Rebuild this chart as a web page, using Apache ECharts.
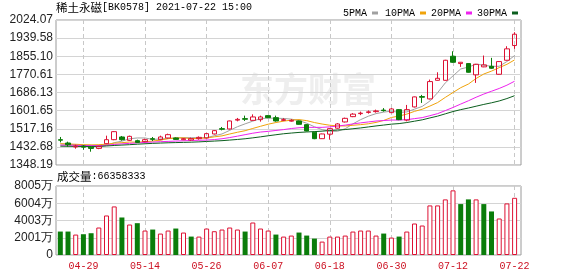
<!DOCTYPE html>
<html><head><meta charset="utf-8">
<script src="https://cdn.jsdelivr.net/npm/echarts@6/dist/echarts.min.js"></script>
<style>html,body{margin:0;padding:0;background:#fff}#c{width:578px;height:276px}</style>
</head><body><div id="c"></div>
<script>
const dates = ['04-26','04-27','04-28','04-29','04-30','05-06','05-07','05-10','05-11','05-12','05-13','05-14','05-17','05-18','05-19','05-20','05-21','05-24','05-25','05-26','05-27','05-28','05-31','06-01','06-02','06-03','06-04','06-07','06-08','06-09','06-10','06-11','06-15','06-16','06-17','06-18','06-21','06-22','06-23','06-24','06-25','06-28','06-29','06-30','07-01','07-02','07-05','07-06','07-07','07-08','07-09','07-12','07-13','07-14','07-15','07-16','07-19','07-20','07-21','07-22'];
// [open, close, lowest, highest]
const candles = [
[1466.2,1463.9,1453.6,1478.8],[1450.8,1442.9,1433.6,1456.9],[1432.2,1436.8,1424.2,1442.9],[1436.8,1431.3,1419.6,1440.6],[1431.3,1425.6,1410.2,1435.9],
[1425.6,1435.0,1421.9,1438.2],[1447.6,1466.2,1445.2,1484.9],[1466.2,1503.6,1463.9,1505.9],[1478.8,1466.2,1461.6,1483.5],[1463.0,1481.7,1460.2,1484.9],
[1461.6,1453.6,1450.8,1466.2],[1456.9,1466.2,1454.6,1470.9],[1470.9,1468.1,1460.2,1478.8],[1466.2,1478.8,1463.9,1484.9],[1474.2,1489.6,1471.8,1494.2],
[1474.2,1467.6,1466.2,1476.5],[1466.2,1470.9,1463.9,1474.2],[1464.8,1470.9,1461.6,1475.6],[1470.9,1477.0,1466.2,1481.6],[1474.2,1494.3,1471.8,1497.5],
[1492.9,1508.3,1490.5,1510.6],[1517.6,1514.8,1509.7,1525.5],[1516.2,1553.5,1513.9,1554.9],[1557.3,1561.0,1551.7,1567.5],[1564.3,1561.5,1553.5,1578.3],
[1556.3,1572.2,1554.9,1584.3],[1559.6,1572.2,1550.3,1578.3],[1578.3,1568.9,1566.6,1580.6],[1568.9,1553.5,1550.3,1578.3],[1556.3,1559.6,1552.6,1566.6],
[1552.6,1556.3,1550.3,1561.9],[1553.5,1537.7,1536.3,1554.9],[1536.3,1506.9,1505.0,1538.6],[1501.3,1470.9,1468.6,1503.6],[1470.9,1492.9,1469.5,1494.3],
[1491.9,1517.6,1466.2,1519.9],[1519.9,1539.5,1517.6,1543.3],[1548.9,1565.7,1546.5,1568.9],[1573.6,1585.3,1571.3,1589.9],[1587.6,1589.9,1580.6,1597.0],
[1593.2,1596.0,1587.6,1602.5],[1597.0,1600.2,1592.3,1606.3],[1604.0,1601.6,1597.0,1613.3],[1592.3,1609.5,1590.0,1613.3],[1606.3,1559.6,1557.3,1608.6],
[1557.3,1606.3,1551.7,1628.2],[1618.9,1665.6,1616.5,1667.0],[1667.0,1664.2,1637.5,1674.9],[1656.2,1737.0,1653.9,1746.3],[1743.0,1752.4,1741.6,1780.4],
[1743.0,1836.4,1741.6,1838.3],[1855.1,1827.1,1824.3,1878.4],[1821.0,1827.1,1805.6,1828.0],[1821.0,1780.4,1779.0,1823.3],[1768.3,1817.7,1730.9,1819.6],
[1805.6,1814.9,1804.2,1858.4],[1808.4,1799.1,1796.3,1847.6],[1771.1,1830.3,1769.7,1832.7],[1836.4,1889.6,1835.0,1901.8],[1905.0,1957.8,1889.6,1967.1]
];
const ma5 = [1446.2,1445.2,1442.9,1440.6,1440.1,1434.5,1439.2,1452.3,1459.3,1470.5,1474.2,1474.2,1467.2,1469.5,1471.4,1474.2,1475.1,1475.6,1475.1,1476.0,1484.5,1492.9,1509.7,1526.5,1540.0,1552.6,1564.3,1567.1,1565.7,1565.2,1562.0,1555.4,1542.8,1526.5,1513.0,1505.0,1505.5,1517.2,1540.0,1559.6,1575.5,1587.6,1594.6,1599.3,1593.2,1595.6,1608.7,1621.3,1646.5,1685.2,1731.0,1763.6,1795.8,1804.7,1817.8,1813.6,1808.0,1808.4,1830.4,1858.4];
const ma10 = [1447.6,1446.2,1444.8,1442.9,1442.0,1442.9,1445.2,1449.9,1452.3,1455.3,1454.4,1456.7,1459.7,1464.4,1470.9,1474.2,1474.7,1471.4,1472.4,1473.8,1479.4,1484.0,1492.7,1500.8,1508.1,1518.6,1528.6,1538.4,1546.1,1552.6,1557.3,1559.9,1555.0,1546.1,1539.1,1533.5,1530.5,1530.0,1533.3,1536.3,1540.3,1546.6,1555.9,1569.7,1576.4,1585.5,1598.2,1608.0,1622.9,1639.2,1663.3,1686.1,1708.5,1725.6,1751.5,1772.3,1785.8,1802.1,1817.5,1838.1];
const ma20 = [1440.6,1440.6,1440.1,1439.2,1438.3,1438.3,1440.6,1443.9,1446.7,1449.0,1451.3,1453.2,1455.1,1456.9,1458.3,1459.7,1461.1,1462.5,1463.5,1464.4,1466.7,1470.5,1476.1,1482.6,1489.6,1496.4,1501.8,1505.0,1509.2,1513.2,1518.3,1521.8,1523.7,1523.5,1523.7,1526.0,1529.5,1534.2,1539.6,1544.5,1548.9,1553.1,1555.4,1557.8,1557.8,1559.6,1564.3,1569.0,1578.1,1587.6,1601.7,1616.4,1632.2,1647.6,1664.0,1678.9,1692.0,1705.0,1720.2,1738.7];
const ma30 = [1435.9,1435.5,1435.0,1434.5,1434.5,1435.0,1436.9,1439.2,1441.1,1442.9,1445.2,1447.1,1449.0,1450.4,1451.8,1452.7,1453.7,1454.6,1456.0,1457.9,1459.7,1461.6,1464.4,1467.2,1470.5,1474.7,1479.4,1484.5,1489.2,1493.8,1497.1,1500.1,1502.2,1503.8,1506.0,1508.8,1511.1,1513.4,1517.2,1520.9,1525.6,1530.2,1534.4,1538.6,1541.2,1546.1,1552.4,1558.7,1567.6,1576.0,1586.7,1597.4,1606.3,1613.8,1622.2,1630.6,1638.1,1646.7,1657.9,1671.2];
const volumes = [27200000,27200000,23700000,24100000,25260000,31870000,45850000,56350000,43520000,35360000,36920000,28370000,29530000,24870000,28370000,30700000,26040000,21370000,21370000,30700000,27590000,29530000,31870000,29530000,27200000,37690000,30700000,28370000,23700000,21370000,22540000,26040000,22540000,19040000,15540000,21370000,21370000,22540000,27200000,28370000,28370000,22540000,24870000,20210000,21370000,27200000,36530000,34200000,57510000,57510000,64510000,75000000,59070000,64510000,64510000,59070000,50520000,42360000,59850000,66358333];
const volUp = [0,0,1,0,0,1,1,1,0,1,0,1,0,1,1,0,1,0,1,1,1,1,1,1,0,1,1,1,0,1,1,0,0,0,1,1,1,1,1,1,1,1,0,1,0,1,1,1,1,1,1,1,0,0,1,0,0,1,1,1];
const priceTicks = [1348.19,1432.675,1517.16,1601.645,1686.13,1770.615,1855.10,1939.585,2024.07];
const priceTickLabels = ['1348.19','1432.68','1517.16','1601.65','1686.13','1770.61','1855.10','1939.58','2024.07'];
const volTicks = [0,20012500,40025000,60037500,80050000];
const volTickLabels = ['0','2001万','4003万','6004万','8005万'];
const xTickIdx = [3,11,19,27,35,43,51,59];
const maNames = ['5PMA','10PMA','20PMA','30PMA'];

const RED = '#dd1133', GREEN = '#0a7d0a';
const maColors = ['#a0a0a0','#f0a30a','#ee22ee','#0b5e1e'];
const chart = echarts.init(document.getElementById('c'), null, {renderer:'canvas'});
const nearest = (arr, v) => { let b = 0; arr.forEach((t, k) => { if (Math.abs(t - v) < Math.abs(arr[b] - v)) b = k; }); return b; };
const xAxisBase = (gi, showLabel) => ({
  type:'value', gridIndex:gi, min:-0.56, max:59.83,
  axisLine:{show:false}, axisTick:{show:false, customValues:xTickIdx},
  axisLabel:{show:showLabel, customValues:xTickIdx, formatter:v => dates[Math.round(v)], color:'#cc1122', fontFamily:'Liberation Mono', fontSize:10, margin:6},
  splitLine:{show:true, lineStyle:{type:[4,3], color:'#c8c8c8', width:1}}
});
const legends = maNames.map((n, k) => ({
  data:[n], left:[338,380,426,472][k], top:3, icon:'rect', itemWidth:6, itemHeight:3, align:'right',
  selectedMode:false, textStyle:{fontFamily:'Liberation Mono', fontSize:10, color:'#000', padding:0}
}));
const richTitle = {
  a:{fontFamily:'Noto Sans CJK SC', fontSize:11.5, fontWeight:'normal', color:'#000'},
  b:{fontFamily:'Liberation Mono', fontSize:10, fontWeight:'normal', color:'#000'}
};
const option = {
  animation:false,
  backgroundColor:'#fff',
  title:[
    {text:'{a|稀土永磁}{b|[BK0578] 2021-07-22 15:00}', left:56, top:2, padding:0,
     textStyle:{fontWeight:'normal', rich:richTitle}},
    {text:'{a|成交量}{b|:' + volumes[volumes.length-1] + '}', left:57, top:171, padding:0,
     textStyle:{fontWeight:'normal', rich:richTitle}}
  ],
  legend:legends,
  graphic:[{type:'text', left:240, top:72, z:-10, silent:true,
    style:{text:'东方财富', fill:'#eeeeee', font:'bold 34px "Noto Sans CJK SC"'}}],
  grid:[
    {left:56, top:20, width:465, height:145, show:true, borderColor:'#9a9a9a', borderWidth:1, backgroundColor:'transparent'},
    {left:56, top:186, width:465, height:69, show:true, borderColor:'#9a9a9a', borderWidth:1, backgroundColor:'transparent'}
  ],
  xAxis:[xAxisBase(0,false), xAxisBase(1,true)],
  yAxis:[
    {type:'value', gridIndex:0, min:priceTicks[0], max:priceTicks[priceTicks.length-1], scale:true,
     axisLine:{show:false}, axisTick:{show:false, customValues:priceTicks},
     axisLabel:{customValues:priceTicks, formatter:v => priceTickLabels[nearest(priceTicks, v)], color:'#222', fontFamily:'Liberation Sans', fontSize:12, margin:3},
     splitLine:{show:true, lineStyle:{color:'#d4d4d4', width:1}}},
    {type:'value', gridIndex:1, min:0, max:volTicks[volTicks.length-1], interval:volTicks[1],
     axisLine:{show:false}, axisTick:{show:false},
     axisLabel:{formatter:v => volTickLabels[nearest(volTicks, v)], color:'#222', fontFamily:'Liberation Sans', fontSize:12, margin:3},
     splitLine:{show:true, lineStyle:{color:'#d4d4d4', width:1}}}
  ],
  series:[
    ...[ma5, ma10, ma20, ma30].map((arr, k) => ({
      name:maNames[k], type:'line', xAxisIndex:0, yAxisIndex:0, symbol:'none', showSymbol:false,
      data:arr.map((v, i) => [i, v]), lineStyle:{color:maColors[k], width:1}, itemStyle:{color:maColors[k]}, z:2
    })),
    {type:'candlestick', xAxisIndex:0, yAxisIndex:0, barWidth:5,
     data:candles.map((c, i) => [i, c[0], c[1], c[2], c[3]]),
     itemStyle:{color:'transparent', color0:GREEN, borderColor:RED, borderColor0:GREEN, borderWidth:1}, z:3},
    {type:'bar', xAxisIndex:1, yAxisIndex:1, barWidth:5,
     data:volumes.map((v, i) => ({value:[i, v], itemStyle: volUp[i] ? {color:'#fff', borderColor:RED, borderWidth:1} : {color:GREEN}}))}
  ]
};
chart.setOption(option);
</script></body></html>
